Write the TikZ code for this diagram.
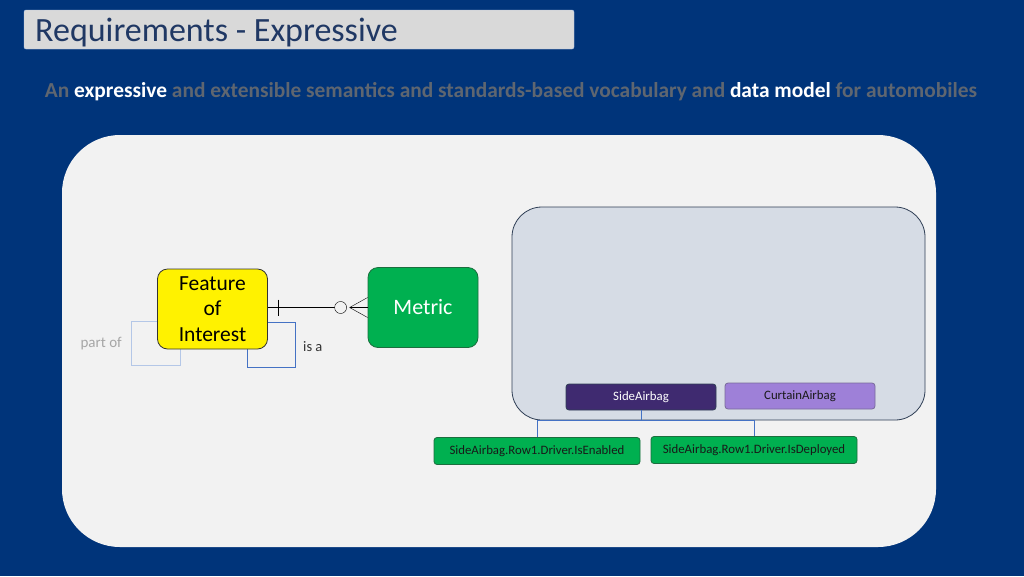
\documentclass[tikz,border=0pt]{standalone}
\usepackage{fontspec}
\setmainfont{Carlito}
\usetikzlibrary{calc}

\definecolor{slidebg}{HTML}{00347A}
\definecolor{titlegray}{HTML}{D9D9D9}
\definecolor{titleblue}{HTML}{203864}
\definecolor{subgray}{HTML}{5F6670}
\definecolor{panelgray}{HTML}{F2F2F2}
\definecolor{innerblue}{HTML}{D6DCE5}
\definecolor{innerline}{HTML}{2F3E55}
\definecolor{foigreen}{HTML}{00B050}
\definecolor{greenline}{HTML}{1C6E3E}
\definecolor{darkpurple}{HTML}{3F2A70}
\definecolor{lightpurple}{HTML}{9E80D8}
\definecolor{linkblue}{HTML}{4472C4}
\definecolor{paleblue}{HTML}{B4C7E7}

\pgfdeclarelayer{back}
\pgfdeclarelayer{mid}
\pgfsetlayers{back,mid,main}

\tikzset{
  entity/.style={draw=#1, line width=0.8pt, rounded corners=10pt, inner sep=0pt,
    minimum width=110pt, minimum height=80pt, align=center},
  signal/.style={draw=greenline, fill=foigreen, line width=0.8pt, rounded corners=3pt,
    inner sep=0pt, minimum width=206pt, minimum height=27pt, text=black!90,
    font=\fontsize{12.8}{15}\selectfont},
  branch/.style={draw=#1, line width=0.8pt, rounded corners=3pt, inner sep=0pt,
    minimum width=150pt, minimum height=26pt, font=\fontsize{12.8}{15}\selectfont},
}

\begin{document}
\begin{tikzpicture}[
    x=1pt,
    y=-1pt,
]

\useasboundingbox (0,0) rectangle (1024,576);

% Slide background and panels
\begin{pgfonlayer}{back}
\fill[slidebg] (0,0) rectangle (1024,576);
\fill[panelgray] (62,135) [rounded corners=58pt] rectangle (936,547);
\draw[innerline, fill=innerblue, line width=0.8pt, rounded corners=30pt] (512,207) rectangle (925,420);
\end{pgfonlayer}

% Title bar
\draw[paleblue, fill=titlegray, rounded corners=2pt] (24,10) rectangle (574,49);
\node[anchor=west, text=titleblue, font=\fontsize{34}{38}\selectfont, inner sep=0pt] (title) at (35,33) {Requirements - Expressive};

% Subtitle
\node[font=\bfseries\fontsize{21.4}{25}\selectfont, text=subgray, inner sep=0pt] (subtitle) at (511,91.5)
  {An \textcolor{white}{expressive} and extensible seman\kern0pt tics and standards-based vocabulary and \textcolor{white}{data model} for automobiles};

% Entities
\node[entity=black!80, fill=yellow, font=\fontsize{21.5}{25.5}\selectfont] (foi) at (212.5,309) {Feature\\of\\Interest};
\node[entity=greenline, fill=foigreen, text=white, font=\fontsize{22}{26}\selectfont] (metric) at (423,307.5) {Metric};

% Self relations
\begin{pgfonlayer}{mid}
\draw[paleblue] ($(foi.south west)+(-26,-28)$) rectangle ($(foi.south west)+(23,16)$);
\draw[linkblue] ($(foi.south east)+(-21,-27)$) rectangle ($(foi.south east)+(27,18)$);
\end{pgfonlayer}
\node[text=black!35, font=\fontsize{15}{17}\selectfont, anchor=east, inner sep=0pt] (partof) at (122,344) {part of};
\node[text=black!80, font=\fontsize{14.5}{17}\selectfont, anchor=west, inner sep=0pt] (isa) at (303,347) {is a};

% Crow's foot relation
\coordinate (bar) at ($(foi.east |- metric.west)+(10,0)$);
\coordinate (ring) at ($(metric.west)+(-27,0)$);
\coordinate (foot) at ($(metric.west)+(-18,0)$);
\draw[black] (foi.east |- metric.west) -- (ring);
\draw[black] ($(bar)+(0,-8)$) -- ($(bar)+(0,8)$);
\draw[black, fill=panelgray] (ring) circle (6pt);
\draw[black] (foot) -- ($(metric.west)+(0,-10)$);
\draw[black] (foot) -- (metric.west);
\draw[black] (foot) -- ($(metric.west)+(0,10)$);

% Branches
\node[branch=innerline, fill=darkpurple, text=white] (side) at (641,397) {SideAirbag};
\node[branch=darkpurple!70, fill=lightpurple, text=black!90] (curtain) at (800,396) {CurtainAirbag};

% Signals
\node[signal] (enabled) at (537,451) {SideAirbag.Row1.Driver.IsEnabled};
\node[signal] (deployed) at (754,450) {SideAirbag.Row1.Driver.IsDeployed};

% Links
\coordinate (rail) at (641,420);
\draw[linkblue] (side.south) -- (rail);
\draw[linkblue] (rail) -| (enabled.north);
\draw[linkblue] (rail) -| (deployed.north);

\end{tikzpicture}
\end{document}
